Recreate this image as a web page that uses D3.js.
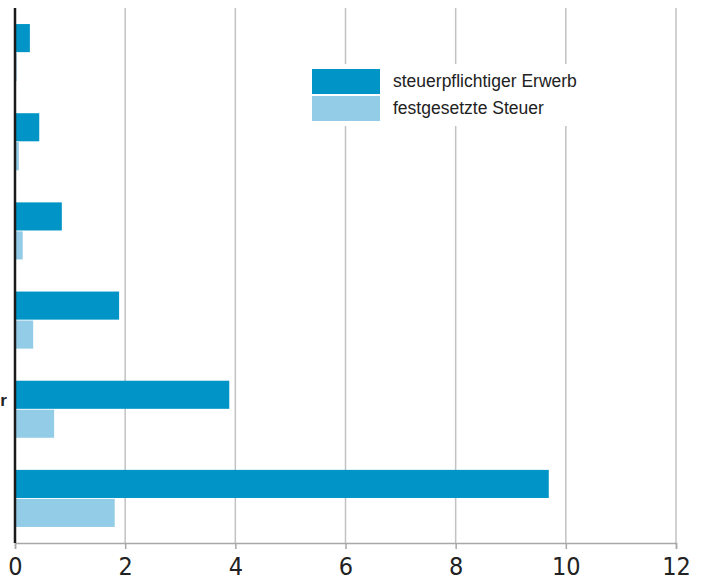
<!DOCTYPE html>
<html>
<head>
<meta charset="utf-8">
<script src="https://cdn.jsdelivr.net/npm/d3@7"></script>
<style>
  body { margin: 0; background: #fff; }
  svg { display: block; }
</style>
</head>
<body>
<div id="chart"></div>
<script>
// Erwerbsklassen (labels are cut off on the left in the original)
var categories = [
  "unter 50 000",
  "50 000 bis unter 100 000",
  "100 000 bis unter 200 000",
  "200 000 bis unter 500 000",
  "500 000 bis unter 5 Mill. und mehr",
  "5 Mill. und mehr"
];
var seriesNames = ["steuerpflichtiger Erwerb", "festgesetzte Steuer"];
var erwerb = [0.27, 0.44, 0.85, 1.89, 3.89, 9.69];
var steuer = [0.03, 0.07, 0.14, 0.33, 0.71, 1.81];
var xTicks = [0, 2, 4, 6, 8, 10, 12];
var colors = ["#0095c6", "#93cce6"];

var svgWidth = 702, svgHeight = 580;
var margin = { top: 8, right: 26, bottom: 37, left: 15 };
var chart = {
  width: svgWidth - margin.left - margin.right,
  height: svgHeight - margin.top - margin.bottom
};

var svg = d3.select("#chart").append("svg")
  .attr("width", svgWidth)
  .attr("height", svgHeight);

var g = svg.append("g")
  .attr("transform", `translate(${margin.left}, ${margin.top})`);

var xScale = d3.scaleLinear().domain([0, 12]).range([0, chart.width]);
var yScale = d3.scaleBand().domain(categories).range([0, chart.height]).paddingInner(0.36).paddingOuter(0.18);
var subScale = d3.scaleBand().domain(seriesNames).range([0, yScale.bandwidth()]).paddingInner(0.03);

// gridlines
g.selectAll("line.grid")
  .data(xTicks.slice(1))
  .enter()
  .append("line")
  .attr("class", "grid")
  .attr("x1", d => xScale(d))
  .attr("x2", d => xScale(d))
  .attr("y1", 0)
  .attr("y2", chart.height)
  .attr("stroke", "#c2c2c2")
  .attr("stroke-width", 1.5);

// bottom axis
var xAxis = d3.axisBottom(xScale).tickValues(xTicks).tickSize(6).tickPadding(8);
var xg = g.append("g")
  .attr("transform", `translate(0, ${chart.height})`)
  .call(xAxis);
xg.select(".domain").attr("stroke", "#a8a8a8").attr("stroke-width", 1.5);
xg.selectAll(".tick line").attr("stroke", "#a8a8a8").attr("stroke-width", 1.5);
xg.selectAll(".tick text")
  .attr("fill", "#222")
  .attr("font-family", "'Liberation Sans Narrow', 'DejaVu Sans Condensed', sans-serif")
  .attr("font-size", "25px");

// bars
var data = categories.map((c, i) => ({ cat: c, values: [erwerb[i], steuer[i]] }));
var groups = g.selectAll("g.cat")
  .data(data)
  .enter()
  .append("g")
  .attr("class", "cat")
  .attr("transform", d => `translate(0, ${yScale(d.cat)})`);

groups.selectAll("rect")
  .data(d => d.values.map((v, j) => ({ name: seriesNames[j], value: v, j: j })))
  .enter()
  .append("rect")
  .attr("x", 0)
  .attr("y", d => subScale(d.name))
  .attr("width", d => xScale(d.value))
  .attr("height", subScale.bandwidth())
  .attr("fill", d => colors[d.j]);

// category labels (mostly outside the visible area)
var labels = g.selectAll("text.cat")
  .data(data)
  .enter()
  .append("text")
  .attr("class", "cat")
  .attr("y", d => yScale(d.cat) + yScale.bandwidth() / 2 - 9)
  .attr("dy", "0.35em")
  .attr("font-family", "'Liberation Sans', Arial, sans-serif")
  .attr("font-weight", "bold")
  .attr("font-size", "17px")
  .attr("fill", "#222")
  .text(d => d.cat);
var longest = d3.max(labels.nodes(), n => n.getComputedTextLength());
labels.attr("x", -margin.left + 7 - longest);

// left axis line
g.append("line")
  .attr("x1", 0).attr("x2", 0)
  .attr("y1", 0).attr("y2", chart.height)
  .attr("stroke", "#1a1a1a")
  .attr("stroke-width", 2.5);

// legend
var legend = svg.append("g").attr("transform", "translate(300, 64)");
legend.append("rect")
  .attr("x", 0).attr("y", 0)
  .attr("width", 292).attr("height", 62)
  .attr("fill", "#fff");
seriesNames.forEach(function(name, i) {
  legend.append("rect")
    .attr("x", 12)
    .attr("y", 5 + i * 27)
    .attr("width", 68)
    .attr("height", 25)
    .attr("fill", colors[i]);
  legend.append("text")
    .attr("x", 93)
    .attr("y", 23 + i * 27)
    .attr("font-family", "'Liberation Sans', Arial, sans-serif")
    .attr("font-size", "17.5px")
    .attr("fill", "#222")
    .text(name);
});
</script>
</body>
</html>
